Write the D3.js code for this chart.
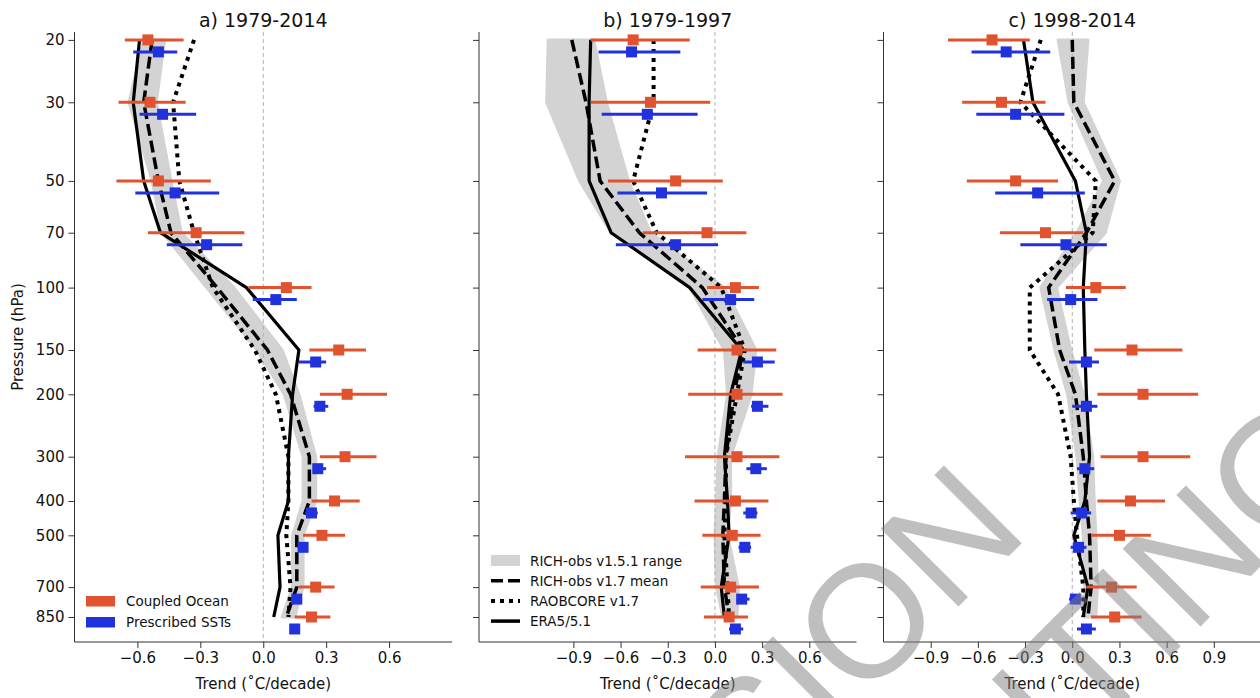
<!DOCTYPE html>
<html lang="en">
<head>
    <meta charset="UTF-8">
    <title>Temperature trend profiles</title>
    <script src="https://d3js.org/d3.v7.min.js"></script>
    <style>
        body { margin: 0; background: #fff; }
        text { font-family: "DejaVu Sans", sans-serif; fill: #111; }
        .tick text { font-size: 15px; }
        .domain, .tick line { stroke: #333; }
    </style>
</head>
<body>
<svg width="1260" height="698"></svg>
<script>
// pressure levels (hPa)
const levels = [20, 30, 50, 70, 100, 150, 200, 300, 400, 500, 700, 850];

// a) 1979-2014
const a_coupled = [-0.55, -0.54, -0.50, -0.32, 0.11, 0.36, 0.40, 0.39, 0.34, 0.28, 0.25, 0.23];
const a_coupledLo = [-0.66, -0.69, -0.70, -0.55, -0.07, 0.22, 0.27, 0.27, 0.23, 0.19, 0.17, 0.15];
const a_coupledHi = [-0.38, -0.37, -0.25, -0.09, 0.23, 0.49, 0.59, 0.54, 0.46, 0.39, 0.34, 0.32];
const a_prescribed = [-0.50, -0.48, -0.42, -0.27, 0.06, 0.25, 0.27, 0.26, 0.23, 0.19, 0.16, 0.15];
const a_prescribedLo = [-0.62, -0.59, -0.61, -0.46, -0.05, 0.17, 0.24, 0.24, 0.20, 0.165, 0.145, 0.135];
const a_prescribedHi = [-0.41, -0.32, -0.21, -0.10, 0.16, 0.30, 0.31, 0.30, 0.26, 0.21, 0.175, 0.165];
const a_richMean = [-0.53, -0.57, -0.50, -0.44, -0.22, 0.02, 0.13, 0.22, 0.22, 0.16, 0.16, 0.11];
const a_richMin = [-0.57, -0.64, -0.53, -0.48, -0.27, -0.03, 0.10, 0.19, 0.19, 0.14, 0.14, 0.09];
const a_richMax = [-0.47, -0.51, -0.44, -0.39, -0.14, 0.09, 0.17, 0.25, 0.25, 0.19, 0.19, 0.15];
const a_raobcore = [-0.33, -0.43, -0.40, -0.33, -0.24, -0.04, 0.06, 0.12, 0.12, 0.11, 0.13, 0.12];
const a_era5 = [-0.59, -0.62, -0.57, -0.49, -0.08, 0.17, 0.14, 0.12, 0.12, 0.07, 0.08, 0.05];

// b) 1979-1997
const b_coupled = [-0.52, -0.41, -0.25, -0.05, 0.13, 0.14, 0.14, 0.14, 0.13, 0.11, 0.10, 0.09];
const b_coupledLo = [-0.79, -0.79, -0.68, -0.46, -0.05, -0.11, -0.17, -0.19, -0.13, -0.08, -0.09, -0.07];
const b_coupledHi = [-0.16, -0.03, 0.05, 0.20, 0.28, 0.39, 0.43, 0.41, 0.34, 0.29, 0.28, 0.21];
const b_prescribed = [-0.53, -0.43, -0.34, -0.25, 0.10, 0.27, 0.27, 0.26, 0.23, 0.19, 0.17, 0.13];
const b_prescribedLo = [-0.74, -0.72, -0.62, -0.63, -0.08, 0.18, 0.23, 0.20, 0.18, 0.15, 0.14, 0.09];
const b_prescribedHi = [-0.22, -0.11, -0.05, 0.02, 0.25, 0.38, 0.34, 0.33, 0.27, 0.23, 0.22, 0.18];
const b_richMean = [-0.91, -0.82, -0.73, -0.48, -0.08, 0.18, 0.12, 0.07, 0.06, 0.05, 0.06, 0.09];
const b_richMin = [-1.06, -1.07, -0.86, -0.66, -0.16, 0.06, 0.08, 0.02, 0.01, 0.00, 0.01, 0.05];
const b_richMax = [-0.77, -0.69, -0.55, -0.41, 0.06, 0.26, 0.23, 0.10, 0.10, 0.08, 0.15, 0.14];
const b_raobcore = [-0.39, -0.39, -0.52, -0.37, 0.04, 0.19, 0.14, 0.07, 0.07, 0.06, 0.08, 0.09];
const b_era5 = [-0.79, -0.80, -0.80, -0.66, -0.16, 0.17, 0.10, 0.06, 0.08, 0.09, 0.04, 0.06];

// c) 1998-2014
const c_coupled = [-0.51, -0.45, -0.36, -0.17, 0.15, 0.38, 0.45, 0.45, 0.37, 0.30, 0.25, 0.27];
const c_coupledLo = [-0.79, -0.70, -0.67, -0.46, -0.04, 0.14, 0.16, 0.18, 0.16, 0.12, 0.09, 0.12];
const c_coupledHi = [-0.27, -0.17, -0.09, 0.07, 0.34, 0.70, 0.80, 0.75, 0.59, 0.50, 0.41, 0.44];
const c_prescribed = [-0.42, -0.36, -0.22, -0.04, -0.01, 0.09, 0.09, 0.08, 0.06, 0.04, 0.02, 0.09];
const c_prescribedLo = [-0.64, -0.61, -0.49, -0.33, -0.16, -0.02, 0.00, 0.03, -0.01, -0.01, -0.02, 0.03];
const c_prescribedHi = [-0.14, -0.05, 0.08, 0.22, 0.16, 0.17, 0.16, 0.14, 0.12, 0.09, 0.06, 0.15];
const c_richMean = [0.00, 0.01, 0.27, 0.09, -0.15, -0.08, 0.02, 0.07, 0.09, 0.11, 0.12, 0.10];
const c_richMin = [-0.09, -0.02, 0.20, 0.03, -0.20, -0.11, -0.03, 0.03, 0.05, 0.07, 0.08, 0.07];
const c_richMax = [0.10, 0.07, 0.30, 0.21, -0.10, -0.01, 0.07, 0.13, 0.14, 0.15, 0.16, 0.15];
const c_raobcore = [-0.20, -0.33, 0.15, 0.13, -0.27, -0.27, -0.09, -0.01, 0.01, 0.03, 0.07, 0.07];
const c_era5 = [-0.31, -0.25, 0.02, 0.09, 0.07, 0.08, 0.09, 0.11, 0.08, 0.01, 0.10, 0.07];

const titles = ["a) 1979-2014", "b) 1979-1997", "c) 1998-2014"];
const xDomains = [[-0.9, 0.9], [-1.5, 0.9], [-1.2, 1.2]];
const xTicks = [[-0.6, -0.3, 0, 0.3, 0.6], [-0.9, -0.6, -0.3, 0, 0.3, 0.6], [-0.9, -0.6, -0.3, 0, 0.3, 0.6, 0.9]];

const orange = "#e1532f", blue = "#2131dc", bandGrey = "#d3d3d3";

const panels = [
    {coupled: a_coupled, coupledLo: a_coupledLo, coupledHi: a_coupledHi, prescribed: a_prescribed, prescribedLo: a_prescribedLo, prescribedHi: a_prescribedHi,
     richMean: a_richMean, richMin: a_richMin, richMax: a_richMax, raobcore: a_raobcore, era5: a_era5},
    {coupled: b_coupled, coupledLo: b_coupledLo, coupledHi: b_coupledHi, prescribed: b_prescribed, prescribedLo: b_prescribedLo, prescribedHi: b_prescribedHi,
     richMean: b_richMean, richMin: b_richMin, richMax: b_richMax, raobcore: b_raobcore, era5: b_era5},
    {coupled: c_coupled, coupledLo: c_coupledLo, coupledHi: c_coupledHi, prescribed: c_prescribed, prescribedLo: c_prescribedLo, prescribedHi: c_prescribedHi,
     richMean: c_richMean, richMin: c_richMin, richMax: c_richMax, raobcore: c_raobcore, era5: c_era5}
];

const svg = d3.select("svg");
const panelLeft = [74.5, 479, 883.5];
const panelWidth = 377.5;
const plotTop = 32, plotBottom = 642;

const y = d3.scaleLog().domain([19, 1000]).range([plotTop, plotBottom]);
const blueOffset = 12;

panels.forEach((p, i) => {
    const g = svg.append("g");
    const x = d3.scaleLinear().domain(xDomains[i]).range([panelLeft[i], panelLeft[i] + panelWidth]);

    // RICH-obs v1.5.1 range
    const band = d3.area()
        .y(d => y(d.p))
        .x0(d => x(d.lo))
        .x1(d => x(d.hi));
    const bandData = levels.map((p0, k) => ({p: p0, lo: p.richMin[k], hi: p.richMax[k]}));
    g.append("path").datum(bandData)
        .attr("d", band)
        .attr("fill", bandGrey)
        .attr("stroke", bandGrey)
        .attr("stroke-width", 3)
        .attr("stroke-linejoin", "round");

    // zero line
    g.append("line")
        .attr("x1", x(0)).attr("x2", x(0))
        .attr("y1", plotTop).attr("y2", plotBottom)
        .attr("stroke", "#b0b0b0")
        .attr("stroke-width", 1)
        .attr("stroke-dasharray", "4,3");

    const line = d3.line().x(d => x(d.v)).y(d => y(d.p));
    const profile = arr => levels.map((p0, k) => ({p: p0, v: arr[k]}));

    g.append("path").datum(profile(p.richMean))
        .attr("d", line).attr("fill", "none")
        .attr("stroke", "#000").attr("stroke-width", 3.5)
        .attr("stroke-dasharray", "12,5");
    g.append("path").datum(profile(p.raobcore))
        .attr("d", line).attr("fill", "none")
        .attr("stroke", "#000").attr("stroke-width", 4)
        .attr("stroke-dasharray", "4,5");
    g.append("path").datum(profile(p.era5))
        .attr("d", line).attr("fill", "none")
        .attr("stroke", "#000").attr("stroke-width", 3.2)
        .attr("stroke-linejoin", "round");

    // model error bars
    const bars = [
        {mean: p.coupled, lo: p.coupledLo, hi: p.coupledHi, color: orange, dy: 0},
        {mean: p.prescribed, lo: p.prescribedLo, hi: p.prescribedHi, color: blue, dy: blueOffset}
    ];
    bars.forEach(s => {
        const d = levels.map((p0, k) => ({p: p0, v: s.mean[k], lo: s.lo[k], hi: s.hi[k]}));
        g.selectAll(null).data(d).enter().append("line")
            .attr("x1", e => x(e.lo)).attr("x2", e => x(e.hi))
            .attr("y1", e => y(e.p) + s.dy).attr("y2", e => y(e.p) + s.dy)
            .attr("stroke", s.color).attr("stroke-width", 3);
        g.selectAll(null).data(d).enter().append("rect")
            .attr("x", e => x(e.v) - 5.5).attr("y", e => y(e.p) + s.dy - 5.5)
            .attr("width", 11).attr("height", 11)
            .attr("fill", s.color);
    });

    // axes
    g.append("g")
        .attr("transform", `translate(0,${plotBottom})`)
        .call(d3.axisBottom(x).tickValues(xTicks[i]).tickFormat(d3.format(".1f")).tickSize(6).tickPadding(4))
        .call(a => a.select(".domain").attr("d", `M${panelLeft[i]},0H${panelLeft[i] + panelWidth}`));
    const yAxis = d3.axisLeft(y).tickValues(levels).tickSize(6).tickPadding(4);
    if (i > 0) yAxis.tickFormat("");
    else yAxis.tickFormat(d3.format("d"));
    g.append("g")
        .attr("transform", `translate(${panelLeft[i]},0)`)
        .call(yAxis)
        .call(a => a.select(".domain").attr("d", `M0,${plotTop}V${plotBottom}`));

    g.append("text")
        .attr("x", panelLeft[i] + panelWidth / 2).attr("y", 27)
        .attr("text-anchor", "middle")
        .style("font-size", "19px")
        .text(titles[i]);
    g.append("text")
        .attr("x", panelLeft[i] + panelWidth / 2).attr("y", 689)
        .attr("text-anchor", "middle")
        .style("font-size", "15px")
        .text("Trend (\u02DAC/decade)");
});

svg.append("text")
    .attr("transform", "translate(23,337) rotate(-90)")
    .attr("text-anchor", "middle")
    .style("font-size", "15px")
    .text("Pressure (hPa)");

// legend a
const legA = [["Coupled Ocean", orange], ["Prescribed SSTs", blue]];
legA.forEach((d, k) => {
    svg.append("rect").attr("x", 86).attr("y", 596 + k * 21).attr("width", 29).attr("height", 10.5).attr("fill", d[1]);
    svg.append("text").attr("x", 126).attr("y", 606 + k * 21).style("font-size", "13.5px").text(d[0]);
});

// legend b
const legB = [["RICH-obs v1.5.1 range", "band"], ["RICH-obs v1.7 mean", "12,5"], ["RAOBCORE v1.7", "4,5"], ["ERA5/5.1", null]];
legB.forEach((d, k) => {
    const yy = 560.5 + k * 20.2;
    if (d[1] === "band") {
        svg.append("rect").attr("x", 491).attr("y", yy - 5.5).attr("width", 29).attr("height", 11).attr("fill", bandGrey);
    } else {
        svg.append("line").attr("x1", 491).attr("x2", 520).attr("y1", yy).attr("y2", yy)
            .attr("stroke", "#000").attr("stroke-width", d[1] === "4,5" ? 4 : 3.5)
            .attr("stroke-dasharray", d[1]);
    }
    svg.append("text").attr("x", 530).attr("y", yy + 5).style("font-size", "13.5px").text(d[0]);
});

// watermark
const wm = svg.append("g").style("pointer-events", "none");
[["ACCEPTED VERSION", 1031, 534], ["SUBJECT TO FINAL EDITING", 1361, 466]].forEach(d => {
    wm.append("text")
        .attr("transform", `translate(${d[1]},${d[2]}) rotate(-45)`)
        .attr("text-anchor", "end")
        .style("font-family", "Liberation Sans, sans-serif")
        .style("font-size", "160px")
        .style("fill", "#7f7f7f")
        .style("fill-opacity", 0.5)
        .text(d[0]);
});
</script>
</body>
</html>
